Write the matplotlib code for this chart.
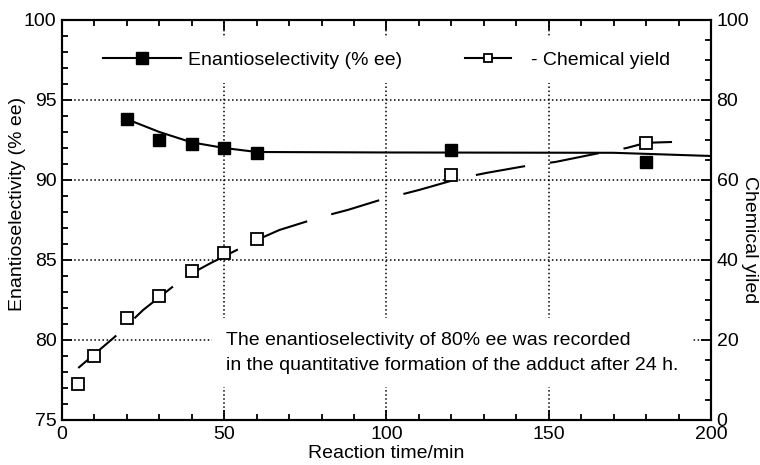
import matplotlib
matplotlib.use('Agg')
import matplotlib.pyplot as plt
from matplotlib.ticker import MultipleLocator
from matplotlib.legend_handler import HandlerLine2D

plt.rcParams['font.family'] = ['Liberation Sans', 'DejaVu Sans']

# measured points
time_ee = [20, 30, 40, 50, 60, 120, 180]
ee = [93.8, 92.5, 92.25, 92.0, 91.7, 91.85, 91.15]

time_yield = [5, 10, 20, 30, 40, 50, 60, 120, 180]
chem_yield = [9, 16, 25.5, 31, 37.2, 41.8, 45.3, 61.2, 69.2]

# fitted curves as drawn in the figure
fit_t_ee = [20, 30, 40, 50, 60, 100, 170, 200]
fit_ee = [93.8, 93.0, 92.35, 92.0, 91.75, 91.72, 91.7, 91.5]

fit_t_yield = [5, 17, 25, 38, 46, 60, 67, 80, 88, 98, 110, 123, 131, 145, 152, 166, 174, 180, 188]
fit_yield = [13, 21.3, 27.5, 35.8, 39.3, 45, 47.5, 50.8, 52.5, 55, 57.5, 60.5, 61.8, 63.8, 64.5, 66.8, 68, 69.3, 69.5]

note = ("The enantioselectivity of 80% ee was recorded\n"
        "in the quantitative formation of the adduct after 24 h.")


class ShortHandle(HandlerLine2D):
    # legend sample: short line with the marker near its right end
    def get_xdata(self, legend, xdescent, ydescent, width, height, fontsize):
        x0 = -xdescent
        return [x0 + 0.25 * width, x0 + 0.85 * width], [x0 + 0.78 * width]


fig = plt.figure(figsize=(7.6, 4.65), dpi=100)
ax = fig.add_axes([0.0816, 0.0968, 0.8539, 0.8602])
ax2 = ax.twinx()

lw = 1.5
ax.plot(fit_t_ee, fit_ee, color='black', lw=lw, zorder=4)
ax.plot(time_ee, ee, ls='none', marker='s', ms=8, color='black', zorder=5)

dash = (0, (36 / lw, 18 / lw))
ax2.plot(fit_t_yield, fit_yield, color='black', lw=lw, ls=dash, zorder=4)
ax2.plot(time_yield, chem_yield, ls='none', marker='s', ms=8, mfc='white',
         mec='black', mew=1.3, zorder=5)

ax.set_xlim(0, 200)
ax.set_ylim(75, 100)
ax2.set_ylim(0, 100)

ax.xaxis.set_major_locator(MultipleLocator(50))
ax.xaxis.set_minor_locator(MultipleLocator(10))
ax.yaxis.set_major_locator(MultipleLocator(5))
ax.yaxis.set_minor_locator(MultipleLocator(1))
ax2.yaxis.set_major_locator(MultipleLocator(20))
ax2.yaxis.set_minor_locator(MultipleLocator(5))

ax.grid(True, which='major', color='black', ls=':', lw=1.1)

for a in (ax, ax2):
    for s in a.spines.values():
        s.set_linewidth(1.5)
    a.tick_params(which='both', direction='in', width=1.3, labelsize=14, pad=4)
    a.tick_params(which='major', length=7)
    a.tick_params(which='minor', length=4)
ax.tick_params(which='both', top=True, right=False)
ax2.tick_params(which='both', left=False, right=True)

ax.set_xlabel('Reaction time/min', fontsize=14, labelpad=2)
ax.set_ylabel('Enantioselectivity (% ee)', fontsize=14, rotation=90,
              ha='center', va='center', rotation_mode='anchor')
ax.yaxis.set_label_coords(-0.068, 0.54)
ax2.set_ylabel('Chemical yiled', fontsize=14, rotation=270,
               ha='center', va='center', rotation_mode='anchor')
ax2.yaxis.set_label_coords(1.06, 0.45)

ax.text(50.5, 79.2, note, fontsize=14, ha='left', va='center', linespacing=1.6,
        bbox=dict(boxstyle='square,pad=0.7', fc='white', ec='none'), zorder=3)

h1, = ax.plot([], [], color='black', lw=lw, marker='s', ms=8)
h2, = ax2.plot([], [], color='black', lw=lw, marker='s', ms=6, mfc='white', mew=1.3)
leg = ax2.legend([h1, h2], ['Enantioselectivity (% ee)', '- Chemical yield'], ncol=2,
                 loc='upper center', bbox_to_anchor=(0.5, 0.955), fontsize=14,
                 handlelength=4.0, handletextpad=0.4, columnspacing=2.2,
                 frameon=True, fancybox=False, edgecolor='none', facecolor='white',
                 framealpha=1, borderpad=0.7, borderaxespad=0,
                 handler_map={h2: ShortHandle()})

fig.savefig('out.png', dpi=100)
